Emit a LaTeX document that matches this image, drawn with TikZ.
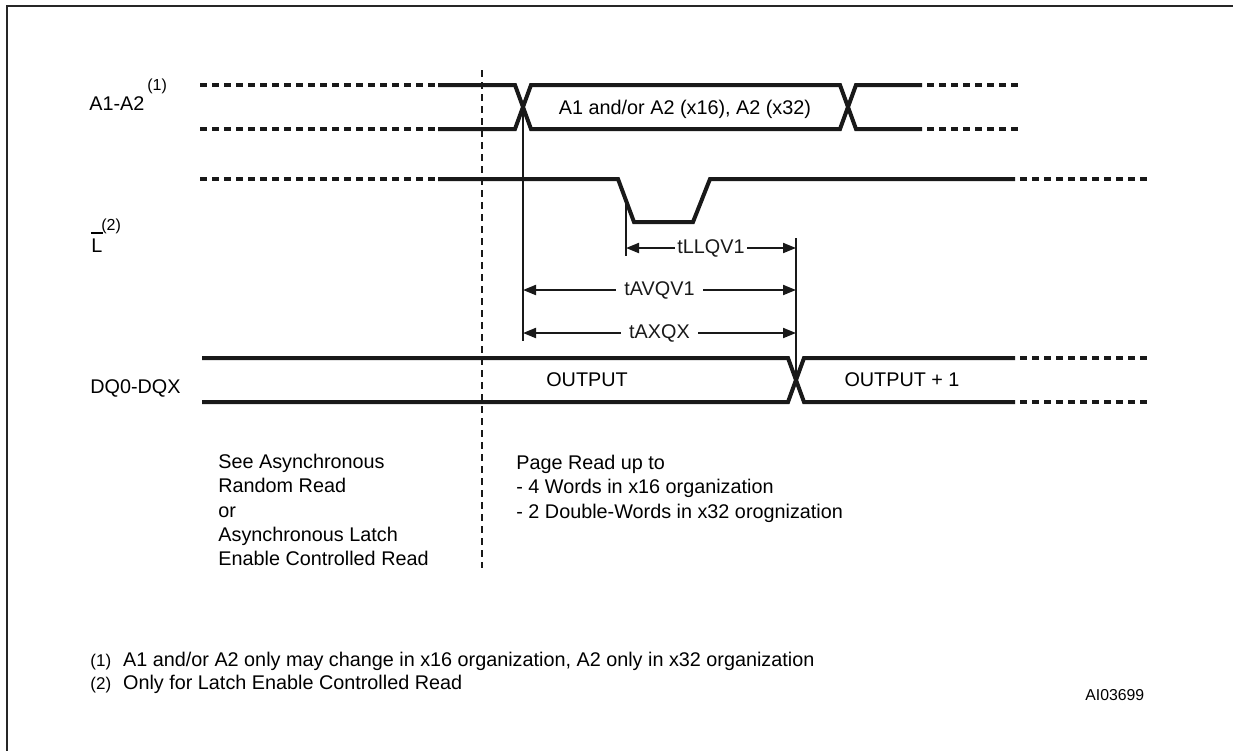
\documentclass[tikz,border=0pt]{standalone}
\usepackage{fontspec}
\setmainfont{Liberation Sans}
\usetikzlibrary{arrows.meta}
\tikzset{
  frameline/.style={line width=1.3pt,black!85},
  sig/.style={line width=2pt,black!90},
  sigdash/.style={line width=2pt,black!90,dash pattern=on 3.5pt off 2.5pt},
  cutline/.style={line width=1.2pt,black!90,dash pattern=on 3.5pt off 2.5pt},
  refline/.style={line width=1pt,black!90},
  dimline/.style={line width=1pt,black!90,{Triangle[length=6.5pt,width=5pt]}-{Triangle[length=6.5pt,width=5pt]}},
  dimlabel/.style={fill=white,inner xsep=4pt,inner ysep=1pt},
  suplabel/.style={font=\fontsize{8}{9}\selectfont}
}
\begin{document}
\begin{tikzpicture}[x=0.5pt,y=-0.5pt]
\tikzstyle{every node}+=[inner sep=0pt,font=\fontsize{9.9}{12.1}\selectfont]
\useasboundingbox (0,0) rectangle (1233,751);
\draw[frameline] (1233,6) -- (7,6) -- (7,751);

\node[anchor=base west] (adrlbl) at (89,110) {A1-A2};
\node[suplabel,anchor=base west] (adrsup) at (147,90) {(1)};
\node[anchor=base west] (latlbl) at (91,252) {L};
\draw[line width=0.6pt] ([yshift=2.5pt]latlbl.north west) -- ([yshift=2.5pt]latlbl.north east);
\node[suplabel,anchor=base west] (latsup) at (101,230) {(2)};
\node[anchor=base west] (dqlbl) at (90,393) {DQ0-DQX};

\draw[sigdash] (200,85) -- (438,85) (200,129) -- (438,129);
\draw[sig] (438,85) -- (515,85) -- (531,129) -- (840,129) -- (856,85) -- (922,85);
\draw[sig] (438,129) -- (515,129) -- (531,85) -- (840,85) -- (856,129) -- (922,129);
\draw[sigdash] (927,85) -- (1018,85) (927,129) -- (1018,129);
\node (adrval) at (685,109) {A1 and/or A2 (x16), A2 (x32)};

\draw[sigdash] (200,179) -- (438,179);
\draw[sig] (438,179) -- (618,179) -- (634,222) -- (693,222) -- (710,179) -- (1015,179);
\draw[sigdash] (1020,179) -- (1147,179);

\draw[sig] (202,358) -- (788,358) -- (804,402) -- (1015,402);
\draw[sig] (202,402) -- (788,402) -- (804,358) -- (1015,358);
\draw[sigdash] (1020,358) -- (1147,358) (1020,402) -- (1147,402);
\node (outa) at (587,380) {OUTPUT};
\node (outb) at (902,380) {OUTPUT + 1};

\draw[cutline] (482,70) -- (482,568);

\coordinate (adrx) at (523,107);
\coordinate (adrend) at (523,341);
\coordinate (latx) at (626,200);
\coordinate (latend) at (626,256);
\coordinate (dqtop) at (796,238);
\coordinate (dqx) at (796,380);
\draw[refline] (adrx) -- (adrend);
\draw[refline] (latx) -- (latend);
\draw[refline] (dqtop) -- (dqx);

\coordinate (llqa) at (626,248);
\coordinate (llqb) at (796,248);
\coordinate (avqa) at (523,290);
\coordinate (avqb) at (796,290);
\coordinate (axqa) at (523,333);
\coordinate (axqb) at (796,333);
\draw[dimline] (llqa) -- node[dimlabel,inner xsep=1pt] (llq) {tLLQV1} (llqb);
\draw[dimline] (avqa) -- node[dimlabel] (avq) {tAVQV1} (avqb);
\draw[dimline] (axqa) -- node[dimlabel] (axq) {tAXQX} (axqb);

\node[anchor=north west,align=left] (seenote) at (218,454) {See Asynchronous\\Random Read\\or\\Asynchronous Latch\\Enable Controlled Read};
\node[anchor=north west,align=left] (pagenote) at (516,455) {Page Read up to\\- 4 Words in x16 organization\\- 2 Double-Words in x32 orognization};

\node[anchor=base west] (fnone) at (90,666) {{\fontsize{8.5}{10}\selectfont(1)}\hspace{6pt}A1 and/or A2 only may change in x16 organization, A2 only in x32 organization};
\node[anchor=base west] (fntwo) at (90,689) {{\fontsize{8.5}{10}\selectfont(2)}\hspace{6pt}Only for Latch Enable Controlled Read};
\node[anchor=base west,font=\fontsize{7.9}{9}\selectfont] (figid) at (1085,700) {AI03699};
\end{tikzpicture}
\end{document}
